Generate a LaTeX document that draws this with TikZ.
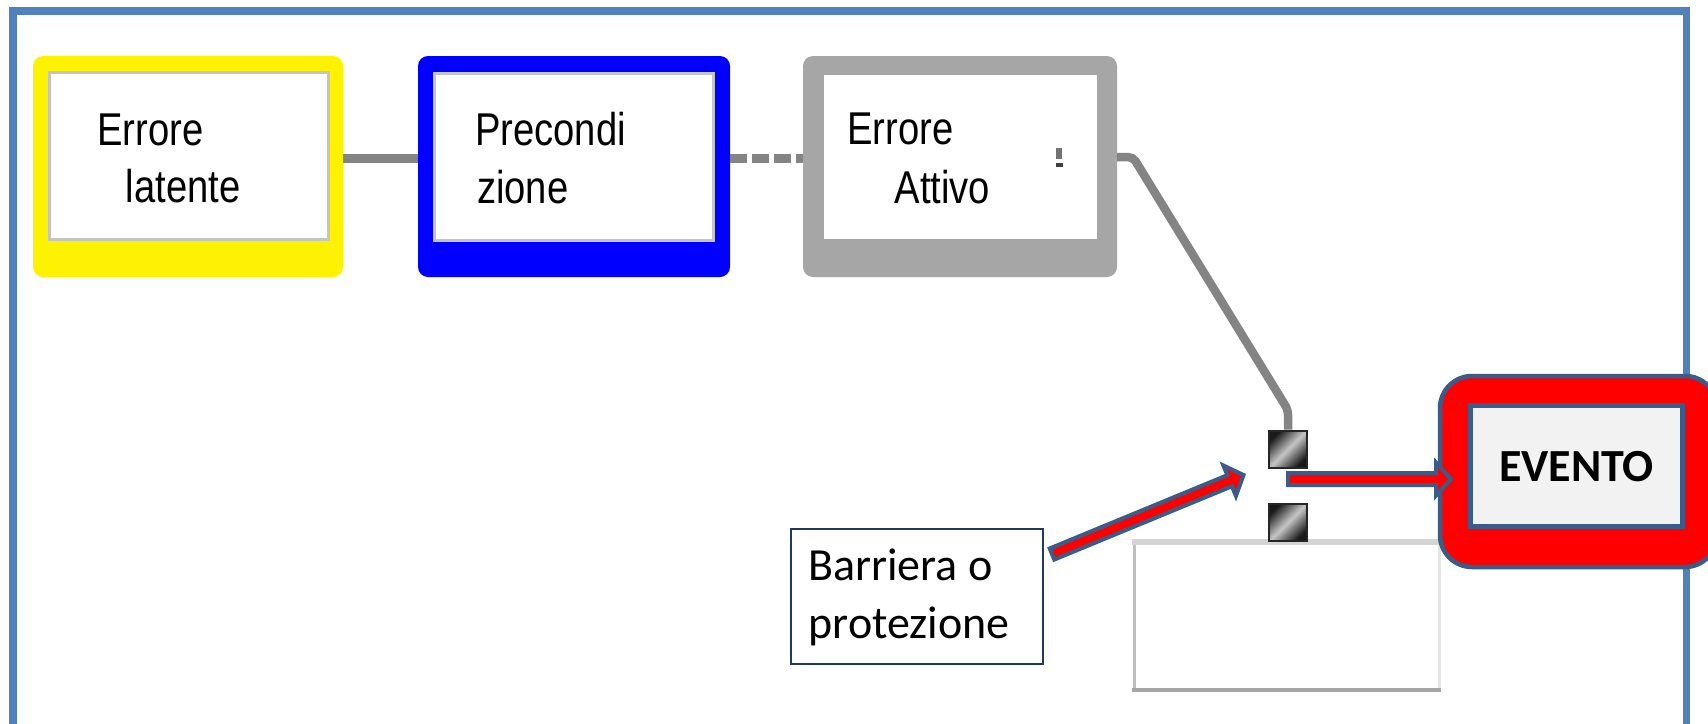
\documentclass[tikz,border=0pt]{standalone}
\usepackage{fontspec}
\setmainfont{Liberation Sans}
\newfontfamily\narrowfont[FakeStretch=0.83]{Liberation Sans}
\newfontfamily\califont{Carlito}
\usetikzlibrary{calc}
\definecolor{framec}{HTML}{4F81BD}
\definecolor{outl}{HTML}{385D8A}
\definecolor{navyc}{HTML}{1F3864}
\definecolor{conng}{HTML}{848484}
\definecolor{boxgray}{HTML}{A6A6A6}
\definecolor{innerb}{HTML}{C4C4C4}
\definecolor{evfill}{HTML}{F2F2F2}
\tikzset{
  outerbox/.style={rounded corners=10pt, inner sep=0pt, draw=none, minimum width=#1, minimum height=221pt},
  innerbox/.style={fill=white, inner sep=0pt, line width=3pt},
  btext/.style={font=\narrowfont\fontsize{46}{55}\selectfont, inner sep=0pt, anchor=base west},
  ctext/.style={font=\califont\fontsize{46}{58}\selectfont, inner sep=0pt, anchor=base west},
  conn/.style={draw=conng, line width=9.5pt},
  sq/.style={minimum width=38pt, minimum height=37pt, inner sep=0pt, draw=black!85, line width=2pt,
     left color=black!90, right color=black!90, middle color=gray!45, shading angle=45},
  arrowst/.style={draw=outl, line width=4pt, fill=red, line join=miter},
}
\newcommand\blockarrow[2]{%
  \coordinate (#1-hb) at ($(#2)!15pt!(#1)$);
  \draw[arrowst] ($(#1)!6pt!90:(#2)$) -- ($(#1-hb)!6pt!90:(#2)$) -- ($(#1-hb)!16.5pt!90:(#2)$)
    -- (#2) -- ($(#1-hb)!16.5pt!-90:(#2)$) -- ($(#1-hb)!6pt!-90:(#2)$) -- ($(#1)!6pt!-90:(#2)$) -- cycle;
}
\begin{document}
\begin{tikzpicture}[x=1pt,y=-1pt]
\useasboundingbox (0,0) rectangle (1708,723);
\clip (0,0) rectangle (1708,723);
\fill[white] (0,0) rectangle (1708,723);
% frame
\draw[framec, line width=7.5pt] (13,740) -- (13,11) -- (1686.5,11) -- (1686.5,740);

% reference line heights
\coordinate (lvl) at (0,158.5);
\coordinate (lvlg) at (0,157);

% boxes
\node[outerbox=310pt, fill=yellow] (yb) at (188,166.5) {};
\node[innerbox, draw=innerb, minimum width=279pt, minimum height=167pt] (yi) at (189,156) {};
\node[outerbox=312pt, fill=blue] (bb) at (574,166.5) {};
\node[innerbox, draw=innerb, minimum width=279pt, minimum height=167pt] (bi) at (574,157) {};
\node[outerbox=314pt, fill=boxgray] (gb) at (960,166.5) {};
\node[innerbox, draw=boxgray, minimum width=276pt, minimum height=167pt] (gi) at (960,156.5) {};

\node[btext] (t1a) at (97,145) {Errore};
\node[btext] (t1b) at (125.5,202) {latente};
\node[btext] (t2a) at (475,145) {Precondi};
\node[btext] (t2b) at (477,203) {zione};
\node[btext] (t3a) at (847,144) {Errore};
\node[btext] (t3b) at (894.5,203) {Attivo};
% tiny mark
\fill[black!55] (1056,148) rectangle (1062,159);
\fill[black!75] (1056,163) rectangle (1063,166.5);

% connectors between boxes
\draw[conn] (yb.east |- lvl) -- (bb.west |- lvl);
\draw[conn, dash pattern=on 17pt off 5pt] (bb.east |- lvl) -- (gb.west |- lvl);

% empty box
\node[inner sep=0pt, minimum width=309pt, minimum height=153pt, anchor=north west] (eb) at (1132,539) {};
\draw[draw=black!17, line width=6pt] (1132,542) -- (1441,542);
\draw[draw=black!25, line width=3.3pt] (1134.5,545) -- (1134.5,692);
\draw[draw=black!35, line width=3.5pt] (1132,690) -- (1441,690);
\draw[draw=black!10, line width=2.5pt] (1439.5,545) -- (1439.5,688);

% barrier squares
\node[sq] (b1) at (1288,449) {};
\node[sq] (b2) at (1288,522) {};

% line from active error to barrier
\draw[draw=conng, line width=8.5pt, rounded corners=5pt] (gb.east |- lvlg) -- (1133,157) -- (1288,410) -- (b1.north);

% barrier text box
\node[draw=navyc, line width=1.8pt, inner sep=0pt, minimum width=252pt, minimum height=135pt, anchor=north west] (bar) at (790,528) {};
\node[ctext] (bt1) at (808,580) {Barriera o};
\node[ctext] (bt2) at (808.5,638) {protezione};

% EVENTO
\node[draw=outl, fill=red, line width=4.5pt, rounded corners=32pt, inner sep=0pt, minimum width=277pt, minimum height=191pt] (ev) at (1578.5,471.5) {};
\node[draw=outl, fill=evfill, line width=5pt, inner sep=0pt, minimum width=212pt, minimum height=121pt] (evi) at (1576.5,466) {};
\node[font=\califont\bfseries\fontsize{46}{55}\selectfont, inner sep=0pt, anchor=base] (evt) at (1576.5,481) {EVENTO};

% block arrows
\coordinate (dtail) at (1052,554);
\coordinate (dtip) at (1243.5,475);
\blockarrow{dtail}{dtip}
\coordinate (htail) at (1288,479);
\coordinate (htip) at (1451,479);
\blockarrow{htail}{htip}
\end{tikzpicture}
\end{document}
